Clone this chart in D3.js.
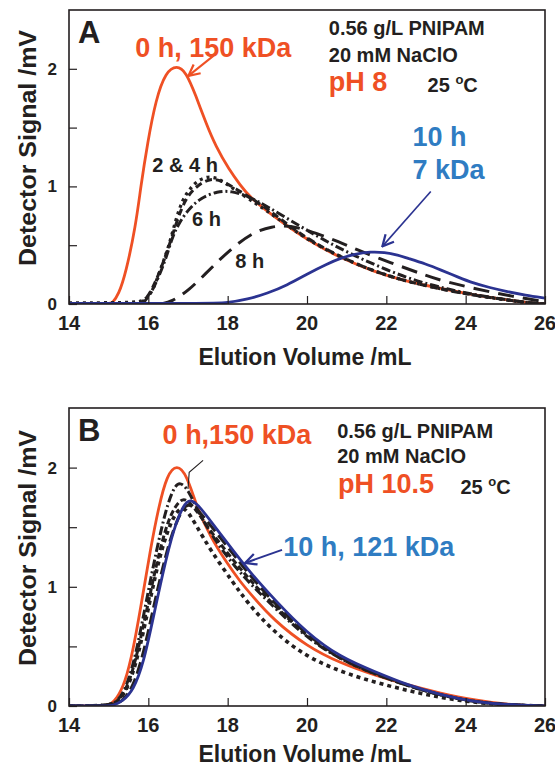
<!DOCTYPE html>
<html>
<head>
<meta charset="utf-8">
<script src="https://cdn.jsdelivr.net/npm/d3@7"></script>
<style>
  body { margin: 0; background: #fff; }
  svg { font-family: "Liberation Sans", Arial, sans-serif; font-weight: bold; }
</style>
</head>
<body>
<svg id="chart" width="555" height="767"></svg>
<script>
// axis values
const xTicks = [14, 16, 18, 20, 22, 24, 26];
const yTicks = [0, 0.5, 1, 1.5, 2];
const yLabels = [0, 1, 2];

// panel A (pH 8): [elution volume mL, signal mV]
const a0h = [[14,0],[15.0,0],[15.1,0.01],[15.25,0.08],[15.43,0.26],[15.68,0.66],[15.81,1.0],[15.98,1.37],[16.19,1.74],[16.44,1.975],[16.72,2.03],[16.95,1.975],[17.2,1.77],[17.45,1.54],[17.7,1.34],[18.04,1.14],[18.32,1.01],[18.55,0.91],[19.16,0.744],[20.0,0.545],[20.85,0.39],[21.69,0.275],[22.53,0.19],[23.37,0.133],[24.2,0.077],[25.05,0.034],[25.7,0.005],[26,0]];
const a2h = [[14,0.01],[15.7,0.01],[15.9,0.03],[16.1,0.1],[16.27,0.26],[16.52,0.49],[16.69,0.715],[16.86,0.886],[17.03,0.97],[17.2,1.04],[17.5,1.09],[17.79,1.066],[18.12,0.985],[18.55,0.89],[19.0,0.79],[19.5,0.67],[20.0,0.55],[20.85,0.395],[21.69,0.278],[22.53,0.19],[23.37,0.13],[24.2,0.075],[25.05,0.032],[25.7,0.005],[26,0]];
const a4h = [[15.75,0],[16.0,0.05],[16.3,0.28],[16.55,0.52],[16.75,0.74],[16.95,0.9],[17.2,1.0],[17.55,1.07],[17.85,1.05],[18.2,0.98],[18.6,0.9],[19.2,0.76],[19.8,0.6],[20.5,0.46],[21.3,0.33],[22.2,0.22],[23.1,0.145],[24.0,0.085],[25.0,0.035],[25.7,0.008],[26,0]];
const a6h = [[15.85,0],[16.1,0.1],[16.44,0.375],[16.6,0.57],[16.78,0.69],[17.0,0.8],[17.3,0.9],[17.75,0.96],[18.1,0.96],[18.5,0.92],[19.0,0.83],[19.83,0.66],[20.5,0.53],[21.2,0.41],[22.0,0.29],[22.8,0.19],[23.5,0.13],[24.2,0.08],[25.05,0.035],[25.7,0.006],[26,0]];
const a8h = [[16.3,0],[16.6,0.02],[17.03,0.12],[17.45,0.26],[17.79,0.375],[18.2,0.5],[18.65,0.61],[19.1,0.66],[19.6,0.67],[20.25,0.6],[20.8,0.53],[21.27,0.46],[21.8,0.39],[22.36,0.32],[22.9,0.255],[23.37,0.2],[24.2,0.133],[25.2,0.062],[26,0.02]];
const a10h = [[14,0.005],[17.5,0.005],[18.0,0.01],[18.5,0.04],[19.0,0.09],[19.5,0.16],[20.0,0.255],[20.5,0.34],[20.85,0.39],[21.2,0.425],[21.6,0.445],[21.95,0.44],[22.3,0.415],[22.53,0.39],[23.0,0.34],[23.37,0.29],[23.8,0.23],[24.2,0.176],[24.6,0.14],[25.05,0.105],[25.5,0.075],[26,0.05]];

// panel B (pH 10.5)
const b0h = [[14,0],[14.9,0],[15.04,0.01],[15.2,0.06],[15.41,0.19],[15.62,0.47],[15.84,0.89],[16.05,1.31],[16.26,1.67],[16.47,1.94],[16.72,2.03],[16.97,1.94],[17.22,1.67],[17.56,1.42],[17.98,1.2],[18.3,1.05],[18.6,0.93],[19.16,0.72],[20.0,0.5],[20.84,0.36],[21.69,0.26],[22.53,0.176],[23.37,0.107],[24.2,0.05],[25.05,0.012],[25.6,0.002],[26,0]];
const b2h = [[14,0],[15.0,0],[15.2,0.03],[15.45,0.15],[15.7,0.45],[15.95,0.88],[16.2,1.3],[16.45,1.66],[16.65,1.84],[16.8,1.88],[17.0,1.82],[17.3,1.6],[17.7,1.38],[18.2,1.16],[18.7,0.98],[19.2,0.82],[20.0,0.57],[20.84,0.39],[21.69,0.27],[22.53,0.17],[23.37,0.09],[24.2,0.035],[25.05,0.008],[26,0]];
const b4h = [[14,0],[15.05,0],[15.3,0.05],[15.55,0.22],[15.8,0.55],[16.05,0.95],[16.3,1.33],[16.55,1.61],[16.8,1.73],[16.95,1.74],[17.2,1.65],[17.6,1.45],[18.1,1.24],[18.6,1.04],[19.16,0.85],[20.0,0.58],[20.84,0.39],[21.69,0.27],[22.53,0.17],[23.37,0.09],[24.2,0.035],[25.05,0.008],[26,0]];
const b6h = [[14,0],[15.05,0],[15.3,0.05],[15.55,0.2],[15.8,0.5],[16.05,0.9],[16.3,1.28],[16.55,1.53],[16.75,1.65],[16.93,1.67],[17.2,1.52],[17.56,1.31],[18.15,1.03],[18.49,0.87],[19.16,0.62],[20.0,0.41],[20.84,0.29],[21.69,0.2],[22.53,0.13],[23.37,0.07],[24.2,0.03],[25.05,0.008],[26,0]];
const b8h = [[14,0],[15.1,0],[15.35,0.04],[15.6,0.15],[15.85,0.4],[16.1,0.78],[16.35,1.15],[16.6,1.46],[16.85,1.65],[17.0,1.7],[17.25,1.65],[17.7,1.46],[18.15,1.27],[18.6,1.08],[19.16,0.87],[20.0,0.59],[20.84,0.4],[21.69,0.28],[22.53,0.17],[23.37,0.09],[24.2,0.035],[25.05,0.008],[26,0]];
const b10h = [[14,0],[15.0,0],[15.12,0.005],[15.35,0.04],[15.62,0.13],[15.88,0.36],[16.13,0.75],[16.38,1.14],[16.64,1.49],[16.89,1.69],[17.06,1.74],[17.31,1.67],[17.73,1.48],[18.15,1.3],[18.57,1.12],[19.16,0.9],[20.0,0.61],[20.84,0.41],[21.69,0.29],[22.53,0.176],[23.37,0.092],[24.2,0.036],[25.05,0.01],[26,0]];

const ORANGE = "#ef5024";
const NAVY = "#2b3391";
const SKY = "#2f7cc2";
const INK = "#231f20";

const svg = d3.select("#chart");

const defs = svg.append("defs");
[["head-orange", ORANGE], ["head-navy", NAVY]].forEach(([id, c]) => {
  defs.append("marker")
    .attr("id", id)
    .attr("viewBox", "0 0 10 10")
    .attr("refX", 9).attr("refY", 5)
    .attr("markerWidth", 14).attr("markerHeight", 14)
    .attr("markerUnits", "userSpaceOnUse")
    .attr("orient", "auto")
    .append("path")
    .attr("d", "M1,1 L9,5 L1,9")
    .attr("fill", "none")
    .attr("stroke", c)
    .attr("stroke-width", 1.6);
});

function drawPanel({top, bottom, series, letter, texts, arrows, titleY, xTitleY}) {
  const x = d3.scaleLinear().domain([14, 26]).range([69, 545]);
  const y = d3.scaleLinear().domain([0, 2.5]).range([bottom, top]);
  const g = svg.append("g");

  const line = d3.line()
    .x(d => x(d[0]))
    .y(d => y(d[1]))
    .curve(d3.curveBasis);

  const clipId = "clip" + letter;
  defs.append("clipPath").attr("id", clipId)
    .append("rect").attr("x", 69).attr("y", top).attr("width", 476).attr("height", bottom - top);

  g.append("g").attr("clip-path", `url(#${clipId})`)
    .selectAll("path")
    .data(series)
    .join("path")
    .attr("d", s => line(s.data))
    .attr("fill", "none")
    .attr("stroke", s => s.color)
    .attr("stroke-width", s => s.width)
    .attr("stroke-dasharray", s => s.dash)
    .attr("stroke-linejoin", "round");

  // ticks pointing inward
  const xAxis = d3.axisTop(x).tickValues(xTicks).tickSize(8).tickFormat("");
  g.append("g").attr("transform", `translate(0,${bottom})`).call(xAxis)
    .call(a => a.select(".domain").remove())
    .selectAll("line").attr("stroke", INK).attr("stroke-width", 1.2);
  const yAxis = d3.axisRight(y).tickValues(yTicks).tickSize(8).tickFormat("");
  g.append("g").attr("transform", `translate(69,0)`).call(yAxis)
    .call(a => a.select(".domain").remove())
    .selectAll("line").attr("stroke", INK).attr("stroke-width", 1.2);

  g.append("rect")
    .attr("x", 69).attr("y", top).attr("width", 476).attr("height", bottom - top)
    .attr("fill", "none").attr("stroke", INK).attr("stroke-width", 1.6);

  g.selectAll(".xl").data(xTicks).join("text")
    .attr("x", d => x(d)).attr("y", bottom + 26)
    .attr("text-anchor", "middle").attr("font-size", 20).attr("fill", INK)
    .text(d => d);
  g.selectAll(".yl").data(yLabels).join("text")
    .attr("x", 57).attr("y", d => y(d) + 6)
    .attr("text-anchor", "end").attr("font-size", 17).attr("fill", INK)
    .text(d => d);

  g.append("text")
    .attr("x", 305).attr("y", xTitleY)
    .attr("text-anchor", "middle").attr("font-size", 23).attr("fill", INK)
    .text("Elution Volume /mL");
  g.append("text")
    .attr("transform", `translate(36,${titleY}) rotate(-90)`)
    .attr("text-anchor", "middle").attr("font-size", 23).attr("fill", INK)
    .attr("textLength", 236).attr("lengthAdjust", "spacingAndGlyphs")
    .text("Detector Signal /mV");

  g.append("text")
    .attr("x", 78).attr("y", top + 33)
    .attr("font-size", 31).attr("fill", INK)
    .text(letter);

  texts.forEach(t => {
    const el = g.append("text")
      .attr("x", x(t.at[0])).attr("y", y(t.at[1]))
      .attr("font-size", t.size).attr("fill", t.color);
    if (t.deg) {
      el.append("tspan").text(t.label);
      el.append("tspan").attr("font-size", 13).attr("dy", -8).text("o");
      el.append("tspan").attr("dy", 8).text("C");
    } else {
      el.text(t.label);
    }
  });

  arrows.forEach(a => {
    g.append("path")
      .attr("d", d3.line()(a.pts.map(p => [x(p[0]), y(p[1])])))
      .attr("fill", "none")
      .attr("stroke", a.color)
      .attr("stroke-width", a.width)
      .attr("marker-end", a.head ? `url(#${a.head})` : null);
  });
}

drawPanel({
  top: 10, bottom: 304, letter: "A", titleY: 148, xTitleY: 365,
  series: [
    {data: a0h, color: ORANGE, width: 2.8, dash: null},
    {data: a2h, color: INK, width: 3.3, dash: "3,4"},
    {data: a4h, color: INK, width: 3, dash: "7,4"},
    {data: a6h, color: INK, width: 3, dash: "9,3,2,3"},
    {data: a8h, color: INK, width: 3, dash: "16,9"},
    {data: a10h, color: NAVY, width: 2.8, dash: null}
  ],
  texts: [
    {label: "0 h, 150 kDa", at: [15.67, 2.1], size: 27, color: ORANGE},
    {label: "0.56 g/L PNIPAM", at: [20.55, 2.29], size: 20, color: INK},
    {label: "20 mM NaClO", at: [20.55, 2.06], size: 20, color: INK},
    {label: "pH 8", at: [20.55, 1.815], size: 27, color: ORANGE},
    {label: "25 ", at: [23.04, 1.805], size: 20, color: INK, deg: true},
    {label: "10 h", at: [22.66, 1.34], size: 27, color: SKY},
    {label: "7 kDa", at: [22.66, 1.065], size: 27, color: SKY},
    {label: "2 & 4 h", at: [16.1, 1.125], size: 20, color: INK},
    {label: "6 h", at: [17.1, 0.665], size: 20, color: INK},
    {label: "8 h", at: [18.19, 0.307], size: 20, color: INK}
  ],
  arrows: [
    {pts: [[17.64, 2.11], [17.01, 1.94]], color: ORANGE, width: 2, head: "head-orange"},
    {pts: [[23.12, 0.957], [21.9, 0.49]], color: NAVY, width: 1.6, head: "head-navy"}
  ]
});

drawPanel({
  top: 408, bottom: 706, letter: "B", titleY: 548, xTitleY: 762,
  series: [
    {data: b0h, color: ORANGE, width: 2.8, dash: null},
    {data: b2h, color: INK, width: 3, dash: "9,3,2,3"},
    {data: b4h, color: INK, width: 3, dash: "6,3"},
    {data: b6h, color: INK, width: 3.6, dash: "4,4"},
    {data: b8h, color: INK, width: 3, dash: "12,5"},
    {data: b10h, color: NAVY, width: 2.8, dash: null}
  ],
  texts: [
    {label: "0 h,150 kDa", at: [16.36, 2.2], size: 27, color: ORANGE},
    {label: "0.56 g/L PNIPAM", at: [20.76, 2.25], size: 20, color: INK},
    {label: "20 mM NaClO", at: [20.76, 2.04], size: 20, color: INK},
    {label: "pH 10.5", at: [20.78, 1.79], size: 27, color: ORANGE},
    {label: "25 ", at: [23.87, 1.78], size: 20, color: INK, deg: true},
    {label: "10 h, 121 kDa", at: [19.4, 1.26], size: 27, color: SKY}
  ],
  arrows: [
    {pts: [[17.38, 2.06], [17.03, 1.96], [17.0, 1.82]], color: INK, width: 1.1, head: null},
    {pts: [[19.37, 1.31], [18.44, 1.2]], color: NAVY, width: 2, head: "head-navy"}
  ]
});
</script>
</body>
</html>
